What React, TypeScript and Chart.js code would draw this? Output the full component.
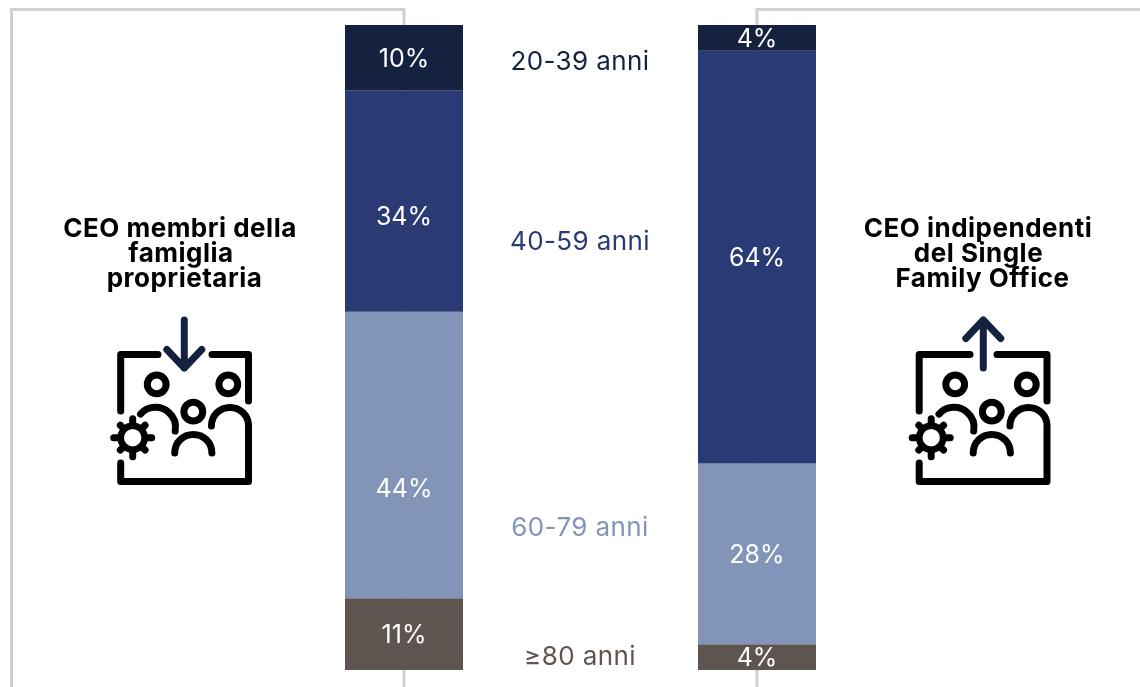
import { useEffect, useRef } from "react";
import { Chart, registerables } from "chart.js";

Chart.register(...registerables);

const owners = ["CEO membri della famiglia proprietaria", "CEO indipendenti del Single Family Office"];
const ageBands = ["20-39 anni", "40-59 anni", "60-79 anni", "≥80 anni"];
const familyCeoShare = [10, 34, 44, 11];
const independentCeoShare = [4, 64, 28, 4];
const bandColors = ["#14213f", "#2a3a75", "#8295b8", "#5f5550"];

const familyTitle = ["CEO membri della", "famiglia", "proprietaria"];
const independentTitle = ["CEO indipendenti", "del Single", "Family Office"];

const FONT = "Inter, sans-serif";
const FRAME = "#d0d0d0";
const INK = "#000000";
const NAVY = "#14213f";

const sum = (values: number[]) => values.reduce((a, b) => a + b, 0);

// One icon: a bracketed frame with three people and a gear; the arrow is drawn separately.
function drawPeopleIcon(ctx: CanvasRenderingContext2D, dx: number, gapStart: number, gapEnd: number) {
  ctx.save();
  ctx.translate(dx, 0);
  ctx.strokeStyle = INK;
  ctx.lineWidth = 7;
  ctx.lineCap = "round";
  ctx.lineJoin = "round";

  const stroke = (draw: () => void) => {
    ctx.beginPath();
    draw();
    ctx.stroke();
  };

  stroke(() => {
    ctx.moveTo(120.7, 411);
    ctx.lineTo(120.7, 354.5);
    ctx.lineTo(gapStart, 354.5);
  });
  stroke(() => {
    ctx.moveTo(gapEnd, 354.5);
    ctx.lineTo(248.5, 354.5);
    ctx.lineTo(248.5, 401);
  });
  stroke(() => {
    ctx.moveTo(120.7, 463);
    ctx.lineTo(120.7, 481.5);
    ctx.lineTo(248.5, 481.5);
    ctx.lineTo(248.5, 426);
    ctx.arc(230, 426, 18.6, 0, Math.PI, true);
  });

  for (const [cx, cy] of [[156.7, 384.3], [228.3, 384.3], [193.3, 411.7]]) {
    stroke(() => ctx.arc(cx, cy, 9.4, 0, Math.PI * 2));
  }
  stroke(() => ctx.arc(155.5, 427.3, 20, Math.PI * 1.23, Math.PI * 2.06));
  stroke(() => ctx.arc(193.3, 453, 18.6, Math.PI, 0));

  // Gear: a ring with eight rounded teeth.
  const gx = 132.7;
  const gy = 437.7;
  ctx.lineWidth = 6.6;
  stroke(() => ctx.arc(gx, gy, 12, 0, Math.PI * 2));
  ctx.lineWidth = 7;
  for (let i = 0; i < 8; i++) {
    const a = (i * Math.PI) / 4;
    const outer = i % 2 === 0 ? 19 : 17.5;
    stroke(() => {
      ctx.moveTo(gx + Math.cos(a) * 13, gy + Math.sin(a) * 13);
      ctx.lineTo(gx + Math.cos(a) * outer, gy + Math.sin(a) * outer);
    });
  }
  ctx.restore();
}

function drawArrow(ctx: CanvasRenderingContext2D, x: number, top: number, bottom: number, down: boolean) {
  ctx.save();
  ctx.strokeStyle = NAVY;
  ctx.lineWidth = 7;
  ctx.lineCap = "round";
  ctx.lineJoin = "round";
  ctx.beginPath();
  ctx.moveTo(x, top);
  ctx.lineTo(x, bottom);
  const tip = down ? bottom : top;
  const wing = down ? tip - 18.5 : tip + 18.5;
  ctx.moveTo(x - 17.5, wing);
  ctx.lineTo(x, tip);
  ctx.lineTo(x + 17.5, wing);
  ctx.stroke();
  ctx.restore();
}

// Vertical centres of the share labels, per column; they do not all sit mid-segment.
const familyLabelY = [58, 216, 488, 634];
const independentLabelY = [38, 257, 554, 657];
const bandLabelY = [61, 241, 527, 656];

const decorations = {
  id: "decorations",
  beforeDatasetsDraw(chart: Chart) {
    const { ctx } = chart;
    const xs = chart.scales.x;
    const leftBar = xs.getPixelForValue(0);
    const rightBar = xs.getPixelForValue(1);
    ctx.save();
    ctx.strokeStyle = FRAME;
    ctx.lineWidth = 3;
    ctx.beginPath();
    ctx.moveTo(11.5, 687);
    ctx.lineTo(11.5, 9.5);
    ctx.lineTo(leftBar, 9.5);
    ctx.lineTo(leftBar, 687);
    ctx.moveTo(1140, 9.5);
    ctx.lineTo(rightBar, 9.5);
    ctx.lineTo(rightBar, 687);
    ctx.stroke();
    ctx.restore();
  },
  afterDatasetsDraw(chart: Chart) {
    const { ctx } = chart;
    const xs = chart.scales.x;
    ctx.save();
    ctx.textAlign = "center";
    ctx.textBaseline = "middle";

    // Share labels on each column.
    ctx.fillStyle = "#ffffff";
    ctx.font = `400 25px ${FONT}`;
    familyCeoShare.forEach((value, i) => ctx.fillText(`${value}%`, xs.getPixelForValue(0), familyLabelY[i] + 1));
    independentCeoShare.forEach((value, i) =>
      ctx.fillText(`${value}%`, xs.getPixelForValue(1), independentLabelY[i] + 1),
    );

    // Age bands between the two columns.
    ctx.font = `400 26px ${FONT}`;
    (ctx as any).letterSpacing = "0.4px";
    ageBands.forEach((band, i) => {
      ctx.fillStyle = bandColors[i];
      ctx.fillText(band, 580, bandLabelY[i] + 1);
    });

    // Column captions.
    ctx.fillStyle = INK;
    ctx.font = `700 26px ${FONT}`;
    (ctx as any).letterSpacing = "0.5px";
    const familyX = [180, 181, 184.5];
    familyTitle.forEach((line, i) => ctx.fillText(line, familyX[i], 229 + i * 25));
    const independentX = [978, 978.5, 982.5];
    independentTitle.forEach((line, i) => ctx.fillText(line, independentX[i], 229 + i * 25));
    (ctx as any).letterSpacing = "0px";
    ctx.restore();

    drawPeopleIcon(ctx, 0, 158, 212);
    drawPeopleIcon(ctx, 798.5, 171.5, 198.5);
    drawArrow(ctx, 184.3, 320, 368, true);
    drawArrow(ctx, 983.3, 320, 368, false);
  },
};

export default function App() {
  const canvasRef = useRef<HTMLCanvasElement>(null);

  useEffect(() => {
    const datasets = [
      ...familyCeoShare.map((value, i) => ({
        label: `${owners[0]} ${ageBands[i]}`,
        data: [value, null],
        backgroundColor: bandColors[i],
        yAxisID: "y",
      })),
      ...independentCeoShare.map((value, i) => ({
        label: `${owners[1]} ${ageBands[i]}`,
        data: [null, value],
        backgroundColor: bandColors[i],
        yAxisID: "y2",
      })),
    ];

    const chart = new Chart(canvasRef.current!, {
      type: "bar",
      data: { labels: owners, datasets },
      options: {
        animation: false,
        responsive: false,
        layout: { padding: { left: 227.5, right: 206.5, top: 25, bottom: 17 } },
        datasets: { bar: { categoryPercentage: 1, barPercentage: 118 / 353 } },
        plugins: { legend: { display: false }, tooltip: { enabled: false } },
        scales: {
          x: { stacked: true, display: false },
          y: { stacked: true, display: false, reverse: true, min: 0, max: sum(familyCeoShare) },
          y2: { stacked: true, display: false, reverse: true, min: 0, max: sum(independentCeoShare) },
        },
      },
      plugins: [decorations],
    } as any);

    return () => chart.destroy();
  }, []);

  return (
    <div style={{ position: "absolute", left: 0, top: 0, width: 1140, height: 687, background: "#fff" }}>
      <canvas ref={canvasRef} width={1140} height={687} style={{ display: "block" }} />
    </div>
  );
}
